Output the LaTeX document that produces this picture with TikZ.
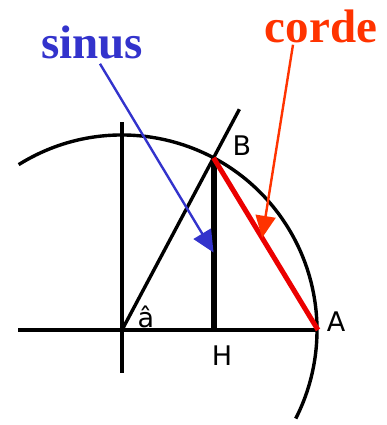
\documentclass[tikz,border=0pt]{standalone}
\usepackage{fontspec}
\setmainfont{Liberation Serif}
\newfontfamily\labelfont{DejaVu Sans}
\usepackage{tikz}
\usetikzlibrary{positioning,arrows.meta,calc}
\definecolor{sinblue}{RGB}{51,51,204}
\definecolor{cordeorange}{RGB}{255,51,0}
\definecolor{chordred}{RGB}{235,0,0}

\begin{document}
\begin{tikzpicture}[
    x=1pt, y=1pt,
    geo/.style={draw, black, line width=3.4pt},
    pt/.style={font=\labelfont\fontsize{27}{27}\selectfont, inner sep=0pt},
    word/.style={font=\bfseries\fontsize{47}{47}\selectfont, inner sep=2pt},
    callout/.style={-{Triangle[length=22pt, width=20pt]}, line width=2.4pt},
  ]
  \useasboundingbox (0,0) rectangle (386,425);

  % --- Points on the circle (radius 195) ---
  \coordinate (O) at (122,95);
  \coordinate (A) at ($(O)+(0:196)$);
  \coordinate (B) at ($(O)+(62:195)$);
  \coordinate (H) at (B |- O);
  \coordinate (ray) at ($(O)+(62:250)$);
  \coordinate (axtop) at (122,303);
  \coordinate (axbot) at (122,52);
  \coordinate (left) at (18,95);

  % --- Axes, circle and ray ---
  \draw[geo] (left) -- (A);
  \draw[geo] (axbot) -- (axtop);
  \draw[geo] ($(O)+(122:195)$) arc[start angle=122, end angle=-27, radius=195];
  \draw[geo] (O) -- (ray);

  % --- Sine and chord ---
  \draw[black, line width=6pt] (H) -- (B);
  \draw[chordred, line width=5pt] (B) -- (A);

  % --- Point labels ---
  \node[pt] (lblB) at (242,279) {B};
  \node[pt] (lblH) at (222,69) {H};
  \node[pt] (lblA) at (336,103) {A};
  \node[pt] (lbla) at (146,108) {â};

  % --- Call-outs ---
  \node[word, text=sinblue] (sinus) at (92,383) {sinus};
  \node[word, text=cordeorange] (corde) at (321,399) {corde};
  \coordinate (sintip) at ($(H)!0.45!(B)$);
  \coordinate (cordetip) at ($(A)!0.535!(B)$);
  \draw[callout, sinblue] ([xshift=8pt, yshift=-3pt]sinus.south) -- (sintip);
  \draw[callout, cordeorange] ([xshift=-28pt]corde.south) -- (cordetip);
\end{tikzpicture}
\end{document}
